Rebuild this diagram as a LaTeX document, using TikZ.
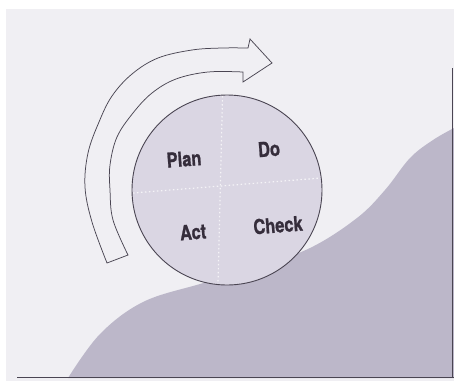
\documentclass[tikz,border=0pt]{standalone}
\usepackage{fontspec}
\usepackage{graphicx}
\newfontfamily\labelfont[FakeBold=1.2]{TeX Gyre Heros}
\definecolor{bgc}{HTML}{F0EFF3}
\definecolor{hillc}{HTML}{BCB7C9}
\definecolor{circc}{HTML}{DAD6E3}
\definecolor{linec}{HTML}{4A4552}
\definecolor{textc}{HTML}{352D3B}
\tikzset{
  pdcalabel/.style={text=textc, inner sep=0pt, rotate=4.5,
    font=\labelfont\bfseries\fontsize{20.5}{22}\selectfont},
  frameline/.style={draw=linec, line width=1.2pt},
  crossline/.style={white, opacity=0.75, line width=1.2pt, dash pattern=on 1.5pt off 2.5pt},
}
\newcommand{\cond}[1]{\scalebox{0.8}[1]{#1}}
\begin{document}
\begin{tikzpicture}[x=1pt,y=-1pt]
\useasboundingbox (0,0) rectangle (454,381);
\fill[white] (0,0) rectangle (454,381);
\fill[bgc] (6,9) rectangle (454,381);
% hill
\fill[hillc] (68,378) -- plot[smooth, tension=0.6] coordinates {(68,378) (100,334) (143,302) (200,284) (250,270) (310,248) (357,218) (385,190) (410,158) (433,140) (454,128)} -- (454,378) -- cycle;
% frame lines
\coordinate (bl) at (17,377.5);
\coordinate (br) at (454,377.5);
\coordinate (rt) at (452.5,68);
\coordinate (rb) at (452.5,378);
\draw[frameline] (bl) -- (br);
\draw[frameline] (rt) -- (rb);
% arrow
\draw[draw=linec, line width=0.75pt, fill=bgc, line join=miter]
  (107,263) -- plot[smooth, tension=0.6] coordinates {(107,263) (92,222) (85,187) (88,153) (99,122) (112,96) (132,74) (158,58) (192,50) (222,48) (248,48)}
  -- (250,39) -- (272,63) -- (243,82) -- (243,72)
  -- plot[smooth, tension=0.6] coordinates {(243,72) (208,72) (176,79) (152,93) (133,113) (117,137) (110,165) (110,190) (113,220) (128,255)}
  -- cycle;
% circle
\node[circle, minimum size=190pt, inner sep=0pt, fill=circc, draw=linec, line width=0.9pt] (pdca) at (227,190) {};
\begin{scope}
  \clip (227,190) circle (94);
  \draw[crossline] (222.5,96) -- (218,284);
  \draw[crossline] (133,193) -- (321,178);
\end{scope}
\node[pdcalabel] (plan) at (184,159) {\cond{Plan}};
\node[pdcalabel] (do) at (269,149) {\cond{Do}};
\node[pdcalabel] (act) at (193,232) {\cond{Act}};
\node[pdcalabel] (check) at (278,225) {\cond{Check}};
\end{tikzpicture}
\end{document}
